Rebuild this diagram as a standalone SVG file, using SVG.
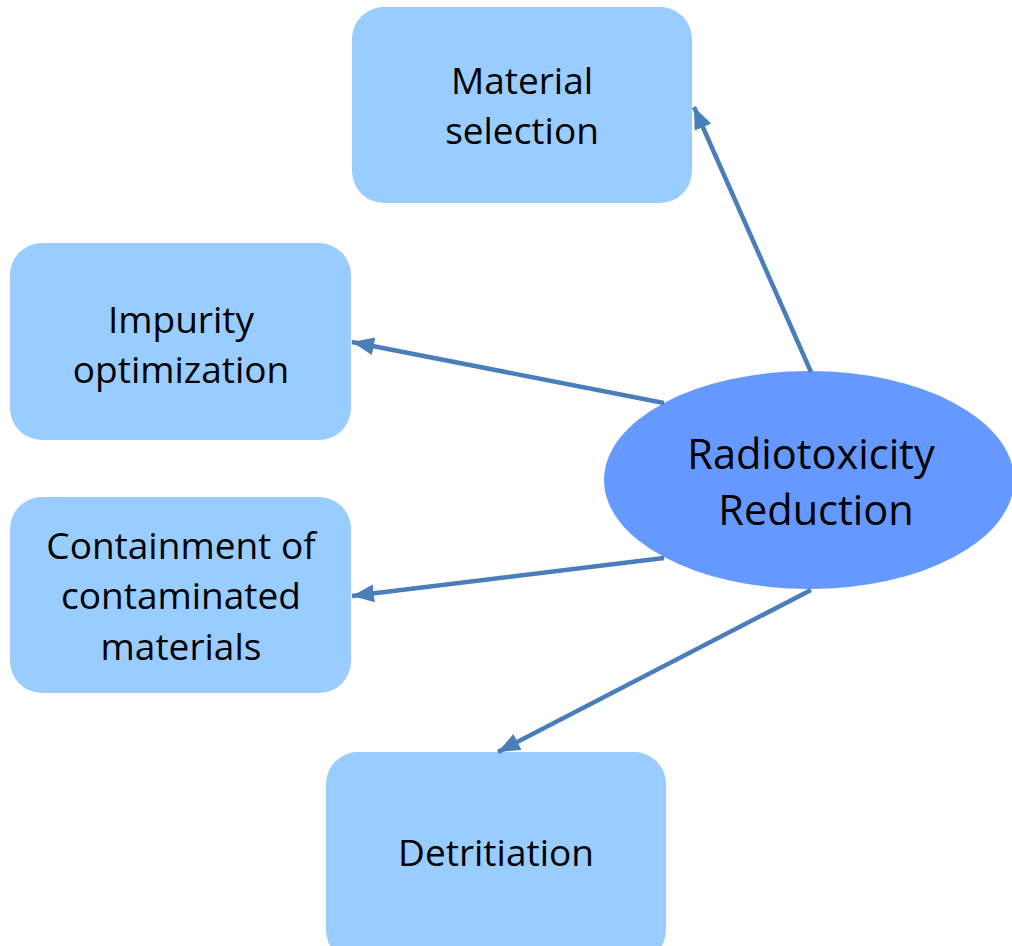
<svg xmlns="http://www.w3.org/2000/svg" width="1012" height="946" viewBox="0 0 1012 946">
<defs>
<style>
.box{fill:#99CCFF;}
.ell{fill:#6699FF;}
.t{font-family:"Open Sans","Liberation Sans",sans-serif;font-size:37px;fill:#000;text-anchor:middle;}
.tb{font-family:"Open Sans","Liberation Sans",sans-serif;font-size:41.5px;fill:#000;text-anchor:middle;}
.c{stroke:#4A7EBB;stroke-width:4.5;fill:none;marker-end:url(#ah);}
</style>
<marker id="ah" markerUnits="userSpaceOnUse" markerWidth="24" markerHeight="24" viewBox="0 0 24 24" refX="22" refY="12" orient="auto">
<path d="M0,3 L22,12 L0,21 Z" fill="#4A7EBB"/>
</marker>
</defs>
<rect width="1012" height="946" fill="#fff"/>
<g id="n-material">
<rect class="box" x="352" y="7" width="340" height="196" rx="32"/>
<text class="t" x="522" y="94">Material</text>
<text class="t" x="522" y="144">selection</text>
</g>
<g id="n-impurity">
<rect class="box" x="10" y="243" width="341" height="197" rx="32"/>
<text class="t" x="181" y="333">Impurity</text>
<text class="t" x="181" y="383">optimization</text>
</g>
<g id="n-containment">
<rect class="box" x="10" y="497" width="341" height="196" rx="32"/>
<text class="t" x="181" y="559">Containment of</text>
<text class="t" x="181" y="609">contaminated</text>
<text class="t" x="181" y="660">materials</text>
</g>
<g id="n-detritiation">
<rect class="box" x="326" y="752" width="340" height="210" rx="32"/>
<text class="t" x="496" y="866">Detritiation</text>
</g>
<g id="n-center">
<ellipse class="ell" cx="809" cy="480" rx="205" ry="109"/>
<text class="tb" x="811" y="469">Radiotoxicity</text>
<text class="tb" x="816" y="525">Reduction</text>
</g>
<g id="connectors">
<line class="c" x1="811" y1="372" x2="694" y2="107"/>
<line class="c" x1="664" y1="403" x2="352" y2="342"/>
<line class="c" x1="664" y1="558" x2="352" y2="596"/>
<line class="c" x1="811" y1="590" x2="498" y2="752"/>
</g>
</svg>
